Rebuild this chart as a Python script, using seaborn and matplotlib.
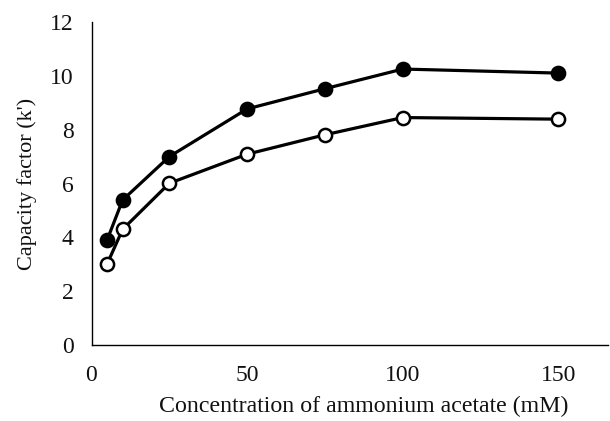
import pandas as pd
import seaborn as sns
import matplotlib.pyplot as plt

# concentration of ammonium acetate (mM)
conc = [5, 10, 25, 50, 75, 100, 150]
# capacity factor k' for the two series
k_filled = [3.90, 5.39, 7.00, 8.77, 9.52, 10.25, 10.10]
k_open = [3.01, 4.30, 6.01, 7.09, 7.81, 8.45, 8.39]

x_ticks = [0, 50, 100, 150]
y_ticks = [0, 2, 4, 6, 8, 10, 12]

sns.set_style('white')
plt.rcParams['font.family'] = ['Liberation Serif', 'DejaVu Serif']

df = pd.DataFrame({
    'conc': conc * 2,
    'k': k_filled + k_open,
    'series': ['filled'] * len(conc) + ['open'] * len(conc),
})

fig = plt.figure(figsize=(6.1, 4.21), dpi=100)
ax = fig.add_axes([0.15, 0.18, 0.847, 0.768])

for name, face in [('filled', 'black'), ('open', 'white')]:
    sub = df[df['series'] == name]
    sns.lineplot(data=sub, x='conc', y='k', ax=ax, color='black', lw=2.3,
                 marker='o', markersize=9.5, markerfacecolor=face,
                 markeredgecolor='black', markeredgewidth=1.8,
                 legend=False, zorder=3)

ax.set_xlim(0, 166)
ax.set_ylim(0, 12)
ax.set_xticks(x_ticks)
ax.set_yticks(y_ticks)
ax.tick_params(axis='both', direction='in', length=4, width=0.8,
               labelsize=17, labelcolor='#111111')
ax.tick_params(axis='x', pad=14)
ax.tick_params(axis='y', pad=13)

for side in ['top', 'right']:
    ax.spines[side].set_visible(False)
for side in ['left', 'bottom']:
    ax.spines[side].set_linewidth(1.0)
    ax.spines[side].set_color('black')

ax.set_xlabel('Concentration of ammonium acetate (mM)', fontsize=17.2,
              color='#111111')
ax.xaxis.set_label_coords(0.526, -0.158)
ax.set_ylabel("Capacity factor (k')", fontsize=16, labelpad=9, color='#111111')

fig.savefig('out.png', dpi=100, facecolor='white')
